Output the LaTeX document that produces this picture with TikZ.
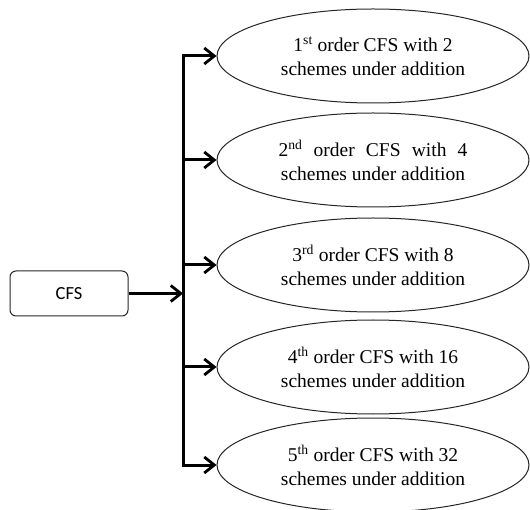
\documentclass[tikz,border=0pt]{standalone}
\usepackage{fontspec}
\setmainfont{Liberation Serif}
\newfontfamily\boxfont{Carlito}
\usetikzlibrary{arrows.meta,shapes.geometric}
\tikzset{
  barb/.tip={Straight Barb[length=10pt,width=16pt,line width=2.8pt]},
  orderell/.style={ellipse,draw=black!85,line width=1pt,minimum width=312pt,minimum height=94pt,inner sep=0pt,
    align=center,font=\fontsize{19.5}{23.5}\selectfont},
  srcbox/.style={draw=black!85,line width=1pt,rounded corners=6pt,minimum width=118pt,minimum height=45pt,
    inner sep=0pt,font=\boxfont\fontsize{18.5}{20}\selectfont},
  arr/.style={line width=3pt,-barb},
  arrboth/.style={line width=3pt,barb-barb}
}
\begin{document}
\begin{tikzpicture}[x=1pt,y=-1pt]
\useasboundingbox (0,0) rectangle (530,510);
\node[srcbox] (cfs) at (69,293.5) {CFS};
\node[orderell] (e1) at (373,56) {1\textsuperscript{st} order CFS with 2\\schemes under addition};
\node[orderell] (e2) at (373,160) {\makebox[189pt][s]{2\textsuperscript{nd} order CFS with 4}\\schemes under addition};
\node[orderell] (e3) at (373,265) {3\textsuperscript{rd} order CFS with 8\\schemes under addition};
\node[orderell] (e4) at (373,367) {4\textsuperscript{th} order CFS with 16\\schemes under addition};
\node[orderell] (e5) at (373,465) {5\textsuperscript{th} order CFS with 32\\schemes under addition};
\coordinate (trunk) at (183,265);
\draw[arrboth,line join=miter] (e1.west) -| (trunk) |- (e5.west);
\draw[arr] (trunk |- e2.west) -- (e2.west);
\draw[arr] (trunk) -- (e3.west);
\draw[arr] (trunk |- e4.west) -- (e4.west);
\draw[arr] (cfs.east) -- (cfs.east -| trunk);
\end{tikzpicture}
\end{document}
